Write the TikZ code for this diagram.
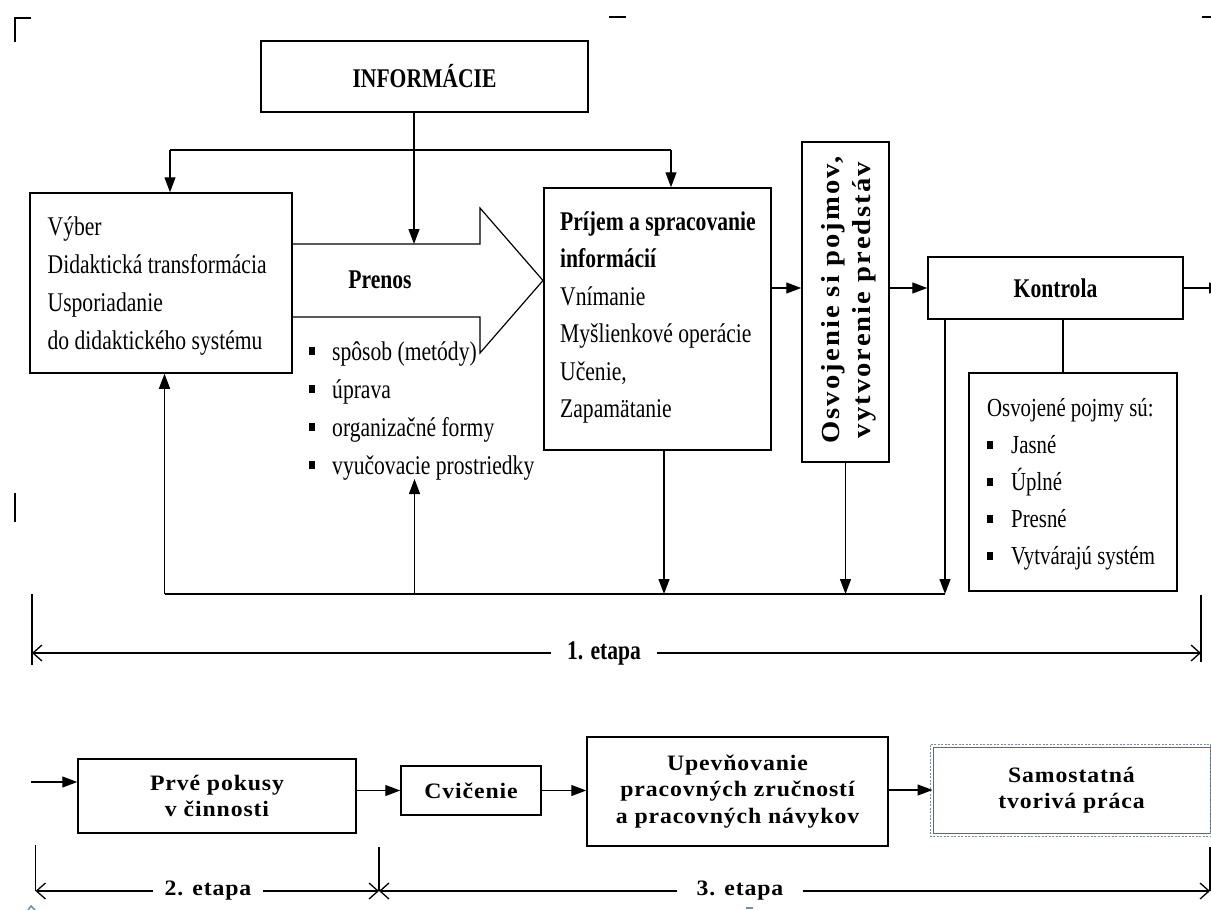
\documentclass[tikz,border=0pt]{standalone}
\usepackage{fontspec}
\setmainfont{Liberation Serif}
\newfontfamily\tf{Liberation Serif}[FakeStretch=0.8]
\newfontfamily\botfont{Liberation Serif}[FakeStretch=1.08,LetterSpace=4]
\newfontfamily\rotfont{Liberation Serif}[FakeStretch=1.1,LetterSpace=8]
\usetikzlibrary{arrows.meta}
\newcommand{\sqb}{\rule[5pt]{5.5pt}{8pt}}
\newcommand{\blt}{\makebox[23pt][l]{\sqb}}
\newcommand{\bltb}{\makebox[24pt][l]{\rule[4.5pt]{5.5pt}{8pt}}}
\definecolor{selblue}{RGB}{120,140,170}
\begin{document}
\begin{tikzpicture}[x=1pt,y=-1pt,
  box/.style={draw, line width=1.5pt, inner sep=0pt},
  txt/.style={inner sep=0pt, anchor=base west, font=\tf\fontsize{27}{38}\selectfont},
  topbold/.style={font=\tf\bfseries\fontsize{27}{32}\selectfont},
  botbold/.style={align=center, font=\botfont\bfseries\fontsize{22}{26.5}\selectfont},
  arr/.style={line width=1.3pt, -{Triangle[length=15pt,width=11pt]}},
  ln/.style={line width=1.3pt},
  dim/.style={line width=1.3pt, -{Straight Barb[length=9pt,width=16pt]}},
  tick/.style={line width=1.1pt},
  crop/.style={line width=2pt}]
\useasboundingbox (0,0) rectangle (1211,910);

% crop marks / artefacts
\draw[crop] (15,42) -- (15,18) -- (31,18);
\draw[crop] (609,17) -- (626,17);
\draw[crop] (1202,17) -- (1211,17);
\draw[crop] (15,493) -- (15,522);
\draw[line width=1.5pt, selblue] (28,910) -- (31,906) -- (35,910);
\draw[line width=2pt, selblue] (746,908) -- (753,908);

% top row
\node[box, topbold, minimum width=327pt, minimum height=71pt] (info) at (424.5,76.5) {INFORMÁCIE};

\node[box, minimum width=262pt, minimum height=180pt] (sel) at (161,283) {};
\node[txt] (seltxt) at (47.5,235) {\begin{tabular}[t]{@{}l@{}}Výber\\Didaktická transformácia\\Usporiadanie\\do didaktického systému\end{tabular}};

\node[box, minimum width=227pt, minimum height=262pt] (prijem) at (657.5,319) {};
\node[txt, font=\tf\fontsize{27}{37.5}\selectfont] (prijemtxt) at (560,230) {\begin{tabular}[t]{@{}l@{}}\textbf{Príjem a spracovanie}\\\textbf{informácií}\\Vnímanie\\Myšlienkové operácie\\Učenie,\\Zapamätanie\end{tabular}};

\node[box, minimum width=87pt, minimum height=320pt] (osv) at (845.5,302) {};
\node[rotate=90, align=center, inner sep=0pt, font=\rotfont\bfseries\fontsize{26}{31}\selectfont] (osvtxt) at (849,300) {Osvojenie si pojmov,\\vytvorenie predstáv};

\node[box, topbold, minimum width=255pt, minimum height=62pt] (kontrola) at (1055.5,288) {Kontrola};

\node[box, minimum width=208pt, minimum height=218pt] (pojmy) at (1073,482) {};
\node[txt, font=\tf\fontsize{26}{37}\selectfont] (pojmytxt) at (987,416) {\begin{tabular}[t]{@{}l@{}}Osvojené pojmy sú:\\\bltb Jasné\\\bltb Úplné\\\bltb Presné\\\bltb Vytvárajú systém\end{tabular}};

% Prenos block arrow
\draw[line width=1.2pt] (292,244) -- (480,244) -- (480,208) -- (543,280.5) -- (480,353) -- (480,317) -- (292,317);
\node[topbold, inner sep=0pt, anchor=base] (prenos) at (380,288) {Prenos};
\node[txt] (list) at (309,360) {\begin{tabular}[t]{@{}l@{}}\blt spôsob (metódy)\\\blt úprava\\\blt organizačné formy\\\blt vyučovacie prostriedky\end{tabular}};

% top connectors
\coordinate (ptop) at (414,244);
\draw[arr] (ptop |- info.south) -- (ptop);
\coordinate (hL) at (170,150);
\coordinate (hR) at (671,150);
\draw[ln] (hL) -- (hR);
\draw[arr] (hL) -- (hL |- sel.north);
\draw[arr] (hR) -- (hR |- prijem.north);

\coordinate (row) at (0,288);
\draw[arr] (prijem.east |- row) -- (osv.west |- row);
\draw[arr] (osv.east |- row) -- (kontrola.west);
\coordinate (outR) at (1224,288);
\draw[arr] (kontrola.east) -- (outR);
\coordinate (kx) at (1063,0);
\draw[ln] (kx |- kontrola.south) -- (kx |- pojmy.north);

% feedback
\coordinate (fbL) at (164.5,594);
\coordinate (fbR) at (945,594);
\draw[ln] (fbL) -- (fbR);
\draw[arr] (fbL) -- (fbL |- sel.south);
\coordinate (fbM) at (414.5,594);
\coordinate (listTip) at (414.5,479);
\draw[arr] (fbM) -- (listTip);
\coordinate (pj) at (664,0);
\draw[arr] (pj |- prijem.south) -- (pj |- fbL);
\draw[arr] (osv.south) -- (osv.south |- fbL);
\draw[arr] (fbR |- kontrola.south) -- (fbR);

% 1. etapa
\coordinate (d1L) at (32,653);
\coordinate (d1R) at (1201,653);
\draw[tick] (d1L) ++(0,-59) -- ++(0,71);
\draw[tick] (d1R) ++(0,-58) -- ++(0,67);
\node[topbold, inner xsep=16pt, inner ysep=0pt] (e1) at (604,653) {1. etapa};
\draw[dim] (e1) -- (d1L);
\draw[dim] (e1) -- (d1R);

% bottom row
\node[box, botbold, minimum width=278pt, minimum height=74pt] (prve) at (217,796) {Prvé pokusy\\v činnosti};
\node[box, botbold, minimum width=140pt, minimum height=49pt] (cvic) at (471,790.5) {Cvičenie};
\node[box, botbold, minimum width=301pt, minimum height=109pt] (upev) at (737.5,791.5) {Upevňovanie\\pracovných zručností\\a pracovných návykov};
\node[draw=black!60, line width=1pt, inner sep=0pt, botbold, minimum width=277pt, minimum height=86pt] (samo) at (1071.5,790) {Samostatná\\tvorivá práca};
\draw[selblue, line width=0.9pt, dash pattern=on 2pt off 1.5pt] ([shift={(-2pt,2pt)}]samo.north west) rectangle ([shift={(0pt,-3pt)}]samo.south east);

\coordinate (inB) at (31,782);
\draw[arr] (inB) -- (inB -| prve.west);
\draw[arr] (prve.east |- cvic.west) -- (cvic.west);
\draw[arr] (cvic.east) -- (cvic.east -| upev.west);
\draw[arr] (upev.east |- samo.west) -- (samo.west);

% 2. and 3. etapa
\coordinate (d2L) at (35.5,891);
\coordinate (d2M) at (379,891);
\coordinate (d2R) at (1210,891);
\draw[tick] (d2L) ++(0,-46) -- ++(0,46);
\draw[tick] (d2M) ++(0,-44) -- ++(0,44);
\draw[tick] (d2R) ++(0,-44) -- ++(0,44);
\node[botbold, inner xsep=11pt, inner ysep=0pt] (e2) at (208,891) {2. etapa};
\node[botbold, inner xsep=19pt, inner ysep=0pt] (e3) at (740,891) {3. etapa};
\draw[dim] (e2) -- (d2L);
\draw[dim] (e2) -- (d2M);
\draw[dim] (e3) -- (d2M);
\draw[dim] (e3) -- (d2R);
\end{tikzpicture}
\end{document}
